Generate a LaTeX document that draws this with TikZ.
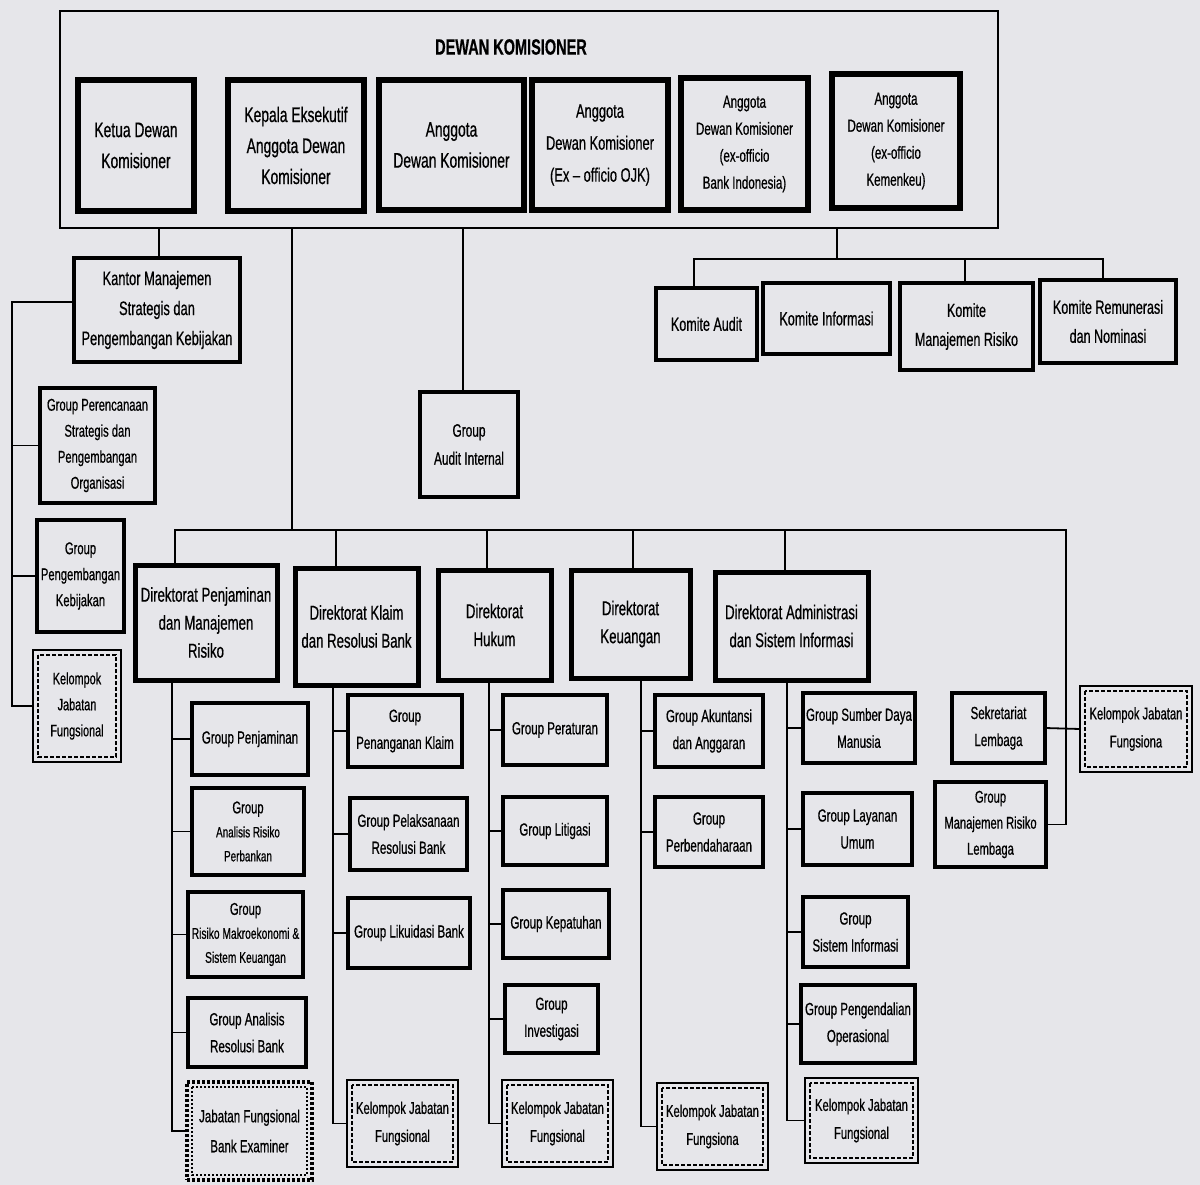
\documentclass[tikz,border=0pt]{standalone}
\usepackage{fontspec}
\setmainfont{Liberation Sans}[FakeStretch=0.66,FakeBold=0.6]
\newcommand\fsz[2]{\fontsize{#1}{#2}\selectfont}
\newcommand\bnode[7]{%
 \pgfmathsetmacro\bnX{(#3+#5)/2}%
 \pgfmathsetmacro\bnY{(#4+#6)/2}%
 \pgfmathsetmacro\bnW{#5-#3}%
 \pgfmathsetmacro\bnH{#6-#4}%
 \node[#2,minimum width=\bnW pt,minimum height=\bnH pt] (#1) at (\bnX,\bnY) {#7};}
\newcommand\kin[2][kelin]{\draw[#1] ([shift={(5,5)}]#2.north west) rectangle ([shift={(-5,-5)}]#2.south east);}
\definecolor{bgc}{HTML}{E6E6EA}
\begin{document}
\begin{tikzpicture}[x=1pt,y=-1pt,
  every node/.style={inner sep=0pt,outer sep=0pt,align=center,text=black},
  outerbox/.style={draw,line width=2pt},
  topbox/.style={draw,line width=5.5pt,font=\fsz{21}{31}},
  kantorbox/.style={draw,line width=4pt,font=\fsz{19.5}{30}},
  leftbox/.style={draw,line width=3.5pt,font=\fsz{17}{26}},
  auditbox/.style={draw,line width=3.5pt,font=\fsz{18}{28}},
  comitbox/.style={draw,line width=3.5pt,font=\fsz{19}{29}},
  dirbox/.style={draw,line width=5pt,font=\fsz{20}{28}},
  grpbox/.style={draw,line width=3.5pt,font=\fsz{17.5}{27}},
  kelbox/.style={draw,line width=2pt,font=\fsz{17}{28}},
  kelin/.style={line width=1.4pt,dash pattern=on 4pt off 2pt},
  exbox/.style={draw,line width=3.5pt,dash pattern=on 3pt off 2pt,font=\fsz{17.5}{30}},
  exin/.style={line width=2pt,dash pattern=on 2pt off 2pt},
  conn/.style={line width=1.8pt,line cap=rect}]
\fill[bgc] (0,0) rectangle (1200,1185);
\useasboundingbox (0,0) rectangle (1200,1185);

% ---------- Dewan Komisioner ----------
\bnode{dk}{outerbox}{60}{11}{998}{228}{}
\node[font=\bfseries\fsz{22}{26}] (dkt) at (511,47) {DEWAN KOMISIONER};
\bnode{k1}{topbox}{78}{80}{194}{211}{Ketua Dewan\\Komisioner}
\bnode{k2}{topbox}{228}{80}{364}{211}{Kepala Eksekutif\\Anggota Dewan\\Komisioner}
\bnode{k3}{topbox}{379}{80}{524}{210}{Anggota\\Dewan Komisioner}
\bnode{k4}{topbox,font=\fsz{19.5}{32}}{532}{80}{668}{210}{Anggota\\Dewan Komisioner\\(Ex -- officio OJK)}
\bnode{k5}{topbox,font=\fsz{17.5}{27}}{681}{78}{808}{210}{Anggota\\Dewan Komisioner\\(ex-officio\\Bank Indonesia)}
\bnode{k6}{topbox,font=\fsz{17.5}{27}}{832}{74}{960}{208}{Anggota\\Dewan Komisioner\\(ex-officio\\Kemenkeu)}

% ---------- Kantor & left column ----------
\bnode{kmsp}{kantorbox}{74}{258}{240}{362}{Kantor Manajemen\\Strategis dan\\Pengembangan Kebijakan}
\bnode{gpso}{leftbox}{40}{388}{155}{503}{Group Perencanaan\\Strategis dan\\Pengembangan\\Organisasi}
\bnode{gpk}{leftbox,line width=4pt}{37}{520}{124}{632}{Group\\Pengembangan\\Kebijakan}
\bnode{kjf1}{kelbox,font=\fsz{16.5}{26}}{33}{650}{121}{762}{Kelompok\\Jabatan\\Fungsional}
\kin{kjf1}

% ---------- Audit ----------
\bnode{gai}{auditbox}{420}{392}{518}{497}{Group\\Audit Internal}

% ---------- Komite ----------
\bnode{ka}{comitbox}{656}{288}{757}{360}{Komite Audit}
\bnode{ki}{comitbox}{763}{283}{890}{354}{Komite Informasi}
\bnode{kmr}{comitbox}{900}{283}{1033}{370}{Komite\\Manajemen Risiko}
\bnode{krn}{comitbox}{1040}{280}{1176}{363}{Komite Remunerasi\\dan Nominasi}

% ---------- Direktorat ----------
\bnode{d1}{dirbox}{135}{565}{277}{680}{Direktorat Penjaminan\\dan Manajemen\\Risiko}
\bnode{d2}{dirbox}{295}{568}{418}{685}{Direktorat Klaim\\dan Resolusi Bank}
\bnode{d3}{dirbox}{438}{570}{551}{680}{Direktorat\\Hukum}
\bnode{d4}{dirbox}{571}{570}{690}{678}{Direktorat\\Keuangan}
\bnode{d5}{dirbox}{715}{572}{868}{680}{Direktorat Administrasi\\dan Sistem Informasi}

% children d1
\bnode{c11}{grpbox}{192}{703}{308}{775}{Group Penjaminan}
\bnode{c12}{grpbox,font=\fsz{15}{24}}{192}{788}{304}{875}{{\fsz{17}{24}Group}\\Analisis Risiko\\Perbankan}
\bnode{c13}{grpbox,font=\fsz{15.5}{24}}{188}{892}{303}{977}{{\fsz{17}{24}Group}\\Risiko Makroekonomi \&\\Sistem Keuangan}
\bnode{c14}{grpbox}{188}{998}{306}{1067}{Group Analisis\\Resolusi Bank}
\bnode{c15}{exbox}{187}{1082}{312}{1180}{Jabatan Fungsional\\Bank Examiner}
\kin[exin]{c15}
% children d2
\bnode{c21}{grpbox}{348}{695}{462}{767}{Group\\Penanganan Klaim}
\bnode{c22}{grpbox}{350}{798}{467}{870}{Group Pelaksanaan\\Resolusi Bank}
\bnode{c23}{grpbox}{348}{898}{470}{968}{Group Likuidasi Bank}
\bnode{c24}{kelbox}{347}{1080}{458}{1167}{Kelompok Jabatan\\Fungsional}
\kin{c24}
% children d3
\bnode{c31}{grpbox}{503}{695}{607}{765}{Group Peraturan}
\bnode{c32}{grpbox}{503}{797}{607}{865}{Group Litigasi}
\bnode{c33}{grpbox}{503}{890}{609}{958}{Group Kepatuhan}
\bnode{c34}{grpbox}{505}{985}{598}{1053}{Group\\Investigasi}
\bnode{c35}{kelbox}{502}{1080}{613}{1167}{Kelompok Jabatan\\Fungsional}
\kin{c35}
% children d4
\bnode{c41}{grpbox}{655}{695}{763}{767}{Group Akuntansi\\dan Anggaran}
\bnode{c42}{grpbox}{655}{797}{763}{867}{Group\\Perbendaharaan}
\bnode{c43}{kelbox}{657}{1083}{768}{1170}{Kelompok Jabatan\\Fungsiona}
\kin{c43}
% children d5
\bnode{c51}{grpbox}{803}{693}{915}{763}{Group Sumber Daya\\Manusia}
\bnode{c52}{grpbox}{803}{793}{912}{865}{Group Layanan\\Umum}
\bnode{c53}{grpbox}{803}{897}{908}{967}{Group\\Sistem Informasi}
\bnode{c54}{grpbox}{801}{985}{915}{1063}{Group Pengendalian\\Operasional}
\bnode{c55}{kelbox}{805}{1078}{918}{1163}{Kelompok Jabatan\\Fungsional}
\kin{c55}
% right group
\bnode{sek}{grpbox}{952}{693}{1045}{763}{Sekretariat\\Lembaga}
\bnode{gmrl}{grpbox,font=\fsz{17}{26}}{935}{782}{1046}{867}{Group\\Manajemen Risiko\\Lembaga}
\bnode{kjfR}{kelbox}{1080}{686}{1192}{772}{Kelompok Jabatan\\Fungsiona}
\kin{kjfR}

% ---------- connectors ----------
\coordinate (xK) at (159,0);
\coordinate (xM) at (292,530);
\coordinate (xA) at (463,0);
\draw[conn] (dk.south -| xK) -- (kmsp.north -| xK);
\draw[conn] (dk.south -| xM) -- (xM);
\draw[conn] (dk.south -| xA) -- (gai.north -| xA);

% komite
\coordinate (cbC) at (837,259);
\coordinate (cbL) at (694,259);
\coordinate (cbM) at (965,259);
\coordinate (cbR) at (1103,259);
\draw[conn] (dk.south -| cbC) -- (cbC);
\draw[conn] (ka.north -| cbL) -- (cbL) -- (cbR) -- (krn.north -| cbR);
\draw[conn] (cbM) -- (kmr.north -| cbM);

% left spine
\coordinate (ls) at (12,0);
\coordinate (kl) at (74,302);
\draw[conn] (kmsp.west |- kl) -- (ls |- kl) -- (ls |- kjf1.west) -- (kjf1.west);
\draw[conn] (ls |- gpso.west) -- (gpso.west);
\draw[conn] (ls |- gpk.west) -- (gpk.west);

% direktorat bus
\coordinate (db0) at (175,530);
\coordinate (db1) at (336,530);
\coordinate (db2) at (487,530);
\coordinate (db3) at (633,530);
\coordinate (db4) at (785,530);
\coordinate (db5) at (1066,530);
\draw[conn] (d1.north -| db0) -- (db0) -- (db5) -- (db5 |- gmrl.east) -- (gmrl.east);
\draw[conn] (db1) -- (d2.north -| db1);
\draw[conn] (db2) -- (d3.north -| db2);
\draw[conn] (db3) -- (d4.north -| db3);
\draw[conn] (db4) -- (d5.north -| db4);
\draw[conn] (sek.east) -- (kjfR.west);

% spines
\coordinate (s1) at (172,0);
\coordinate (s2) at (333,0);
\coordinate (s3) at (489,0);
\coordinate (s4) at (641,0);
\coordinate (s5) at (787,0);
\draw[conn] (d1.south -| s1) -- (s1 |- c15.west);
\foreach \c in {c11,c12,c13,c14,c15} \draw[conn] (s1 |- \c.west) -- (\c.west);
\draw[conn] (d2.south -| s2) -- (s2 |- c24.west);
\foreach \c in {c21,c22,c23,c24} \draw[conn] (s2 |- \c.west) -- (\c.west);
\draw[conn] (d3.south -| s3) -- (s3 |- c35.west);
\foreach \c in {c31,c32,c33,c34,c35} \draw[conn] (s3 |- \c.west) -- (\c.west);
\draw[conn] (d4.south -| s4) -- (s4 |- c43.west);
\foreach \c in {c41,c42,c43} \draw[conn] (s4 |- \c.west) -- (\c.west);
\draw[conn] (d5.south -| s5) -- (s5 |- c55.west);
\foreach \c in {c51,c52,c53,c54,c55} \draw[conn] (s5 |- \c.west) -- (\c.west);
\end{tikzpicture}
\end{document}
